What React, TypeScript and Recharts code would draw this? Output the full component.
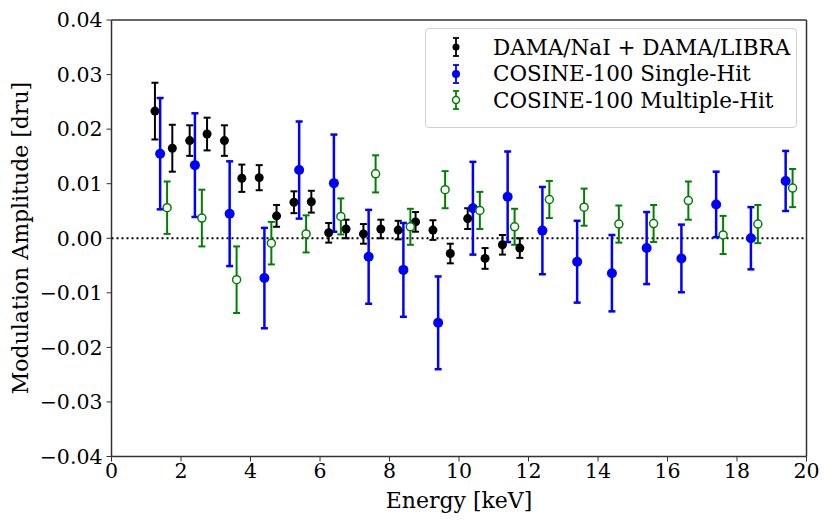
import React from "react";
import {
  ErrorBar,
  Label,
  ReferenceLine,
  Scatter,
  ScatterChart,
  XAxis,
  YAxis,
} from "recharts";

// DAMA/NaI + DAMA/LIBRA (energy [keV], amplitude [dru], 1-sigma error)
const damaEnergy = [1.25, 1.75, 2.25, 2.75, 3.25, 3.75, 4.25, 4.75, 5.25, 5.75, 6.25, 6.75, 7.25, 7.75, 8.25, 8.75, 9.25, 9.75, 10.25, 10.75, 11.25, 11.75];
const damaAmp = [0.0233, 0.0165, 0.0179, 0.0191, 0.0179, 0.011, 0.0111, 0.0041, 0.0066, 0.0067, 0.001, 0.0017, 0.0008, 0.0017, 0.0015, 0.003, 0.0015, -0.0028, 0.0036, -0.0037, -0.0012, -0.0018];
const damaErr = [0.0052, 0.0043, 0.0028, 0.003, 0.0028, 0.0025, 0.0023, 0.002, 0.002, 0.002, 0.0018, 0.0017, 0.0018, 0.0017, 0.0017, 0.0018, 0.0018, 0.0018, 0.0019, 0.0019, 0.0018, 0.0018];

// COSINE-100 single-hit
const singleEnergy = [1.4, 2.4, 3.4, 4.4, 5.4, 6.4, 7.4, 8.4, 9.4, 10.4, 11.4, 12.4, 13.4, 14.4, 15.4, 16.4, 17.4, 18.4, 19.4];
const singleAmp = [0.0155, 0.0134, 0.0045, -0.0073, 0.0125, 0.0101, -0.0034, -0.0058, -0.0155, 0.0055, 0.0076, 0.0014, -0.0043, -0.0064, -0.0018, -0.0037, 0.0062, 0.0, 0.0105];
const singleErr = [0.0102, 0.0095, 0.0096, 0.0092, 0.0089, 0.0089, 0.0086, 0.0086, 0.0085, 0.0085, 0.0083, 0.008, 0.0075, 0.007, 0.0066, 0.0062, 0.006, 0.0057, 0.0055];

// COSINE-100 multiple-hit
const multiEnergy = [1.6, 2.6, 3.6, 4.6, 5.6, 6.6, 7.6, 8.6, 9.6, 10.6, 11.6, 12.6, 13.6, 14.6, 15.6, 16.6, 17.6, 18.6, 19.6];
const multiAmp = [0.0056, 0.0037, -0.0076, -0.0009, 0.0008, 0.004, 0.0118, 0.0021, 0.0089, 0.0051, 0.0021, 0.0071, 0.0057, 0.0026, 0.0027, 0.0069, 0.0006, 0.0026, 0.0092];
const multiErr = [0.0048, 0.0052, 0.0061, 0.0039, 0.0034, 0.0033, 0.0034, 0.0033, 0.0034, 0.0034, 0.0033, 0.0034, 0.0034, 0.0034, 0.0034, 0.0035, 0.0035, 0.0035, 0.0035];

const xTicks = [0, 2, 4, 6, 8, 10, 12, 14, 16, 18, 20];
const yTicks = [-0.04, -0.03, -0.02, -0.01, 0, 0.01, 0.02, 0.03, 0.04];

const toRows = (xs: number[], ys: number[], es: number[]) =>
  xs.map((x, i) => ({ x, y: ys[i], err: es[i] }));

const dama = toRows(damaEnergy, damaAmp, damaErr);
const single = toRows(singleEnergy, singleAmp, singleErr);
const multi = toRows(multiEnergy, multiAmp, multiErr);

const FONT = "DejaVu Serif";
const BLUE = "#0000ff";
const GREEN = "#008000";

const series = [
  { name: "DAMA/NaI + DAMA/LIBRA", color: "#000", hollow: false, r: 3.5 },
  { name: "COSINE-100 Single-Hit", color: BLUE, hollow: false, r: 4 },
  { name: "COSINE-100 Multiple-Hit", color: GREEN, hollow: true, r: 3.5 },
];

function dot(color: string, r: number, hollow: boolean) {
  return (p: any) => (
    <circle
      cx={p.cx}
      cy={p.cy}
      r={r}
      fill={hollow ? "#fff" : color}
      stroke={color}
      strokeWidth={hollow ? 1.5 : 0}
    />
  );
}

function LegendBox() {
  return (
    <div
      style={{
        position: "absolute",
        left: 425,
        top: 28,
        width: 372,
        height: 100,
        border: "1px solid #d0d0d0",
        borderRadius: 4,
        background: "rgba(255,255,255,0.8)",
        boxSizing: "border-box",
        fontFamily: FONT,
        fontSize: 21.5,
        paddingTop: 5,
      }}
    >
      {series.map((s) => (
        <div key={s.name} style={{ display: "flex", alignItems: "center", height: 26.5 }}>
          <svg width={67} height={24}>
            <line x1={30} x2={30} y1={3} y2={21} stroke={s.color} strokeWidth={1.8} />
            <line x1={27} x2={33} y1={3} y2={3} stroke={s.color} strokeWidth={1.8} />
            <line x1={27} x2={33} y1={21} y2={21} stroke={s.color} strokeWidth={1.8} />
            <circle cx={30} cy={12} r={s.r} fill={s.hollow ? "#fff" : s.color} stroke={s.color} strokeWidth={s.hollow ? 1.5 : 0} />
          </svg>
          <span style={{ whiteSpace: "nowrap" }}>{s.name}</span>
        </div>
      ))}
    </div>
  );
}

const tickStyle = { fontSize: 20.5, fill: "#000", fontFamily: FONT };
const axisLine = { stroke: "#333", strokeWidth: 1.5 };
const labelStyle = { fontSize: 22, fill: "#000", fontFamily: FONT };

export default function App() {
  return (
    <div style={{ position: "absolute", left: 0, top: 0, width: 831, height: 524, background: "#fff" }}>
      <ScatterChart
        width={831}
        height={524}
        margin={{ top: 20, right: 24.5, bottom: 17.5, left: 11.5 }}
        style={{ fontFamily: FONT }}
      >
        <XAxis
          type="number"
          dataKey="x"
          domain={[0, 20]}
          ticks={xTicks}
          height={50}
          tick={tickStyle}
          tickSize={5}
          tickMargin={2}
          tickLine={{ stroke: "#333" }}
          axisLine={axisLine}
          allowDataOverflow
        >
          <Label
            content={() => (
              <text x={459} y={508} textAnchor="middle" style={labelStyle}>
                Energy [keV]
              </text>
            )}
          />
        </XAxis>
        <YAxis
          type="number"
          dataKey="y"
          domain={[-0.04, 0.04]}
          ticks={yTicks}
          width={100}
          tick={tickStyle}
          tickSize={5}
          tickMargin={4}
          tickLine={{ stroke: "#333" }}
          axisLine={axisLine}
          tickFormatter={(v: number) => (v < 0 ? "\u2212" + Math.abs(v).toFixed(2) : v.toFixed(2))}
          allowDataOverflow
        >
          <Label
            content={() => (
              <text
                x={22}
                y={238}
                transform="rotate(-90 22 238)"
                textAnchor="middle"
                dominantBaseline="middle"
                style={labelStyle}
              >
                Modulation Amplitude [dru]
              </text>
            )}
          />
        </YAxis>
        <ReferenceLine y={0.04} stroke="#333" strokeWidth={1.5} />
        <ReferenceLine x={20} stroke="#333" strokeWidth={1.5} />
        <ReferenceLine y={0} stroke="#000" strokeWidth={2.2} strokeDasharray="2 3" />
        <Scatter name={series[0].name} data={dama} shape={dot("#000", 4.5, false)} isAnimationActive={false}>
          <ErrorBar dataKey="err" direction="y" width={3.5} stroke="#000" strokeWidth={2} />
        </Scatter>
        <Scatter name={series[1].name} data={single} shape={dot(BLUE, 5, false)} isAnimationActive={false}>
          <ErrorBar dataKey="err" direction="y" width={3.5} stroke={BLUE} strokeWidth={2.5} />
        </Scatter>
        <Scatter name={series[2].name} data={multi} shape={dot(GREEN, 4, true)} isAnimationActive={false}>
          <ErrorBar dataKey="err" direction="y" width={3.5} stroke={GREEN} strokeWidth={2} />
        </Scatter>
      </ScatterChart>
      <LegendBox />
    </div>
  );
}
